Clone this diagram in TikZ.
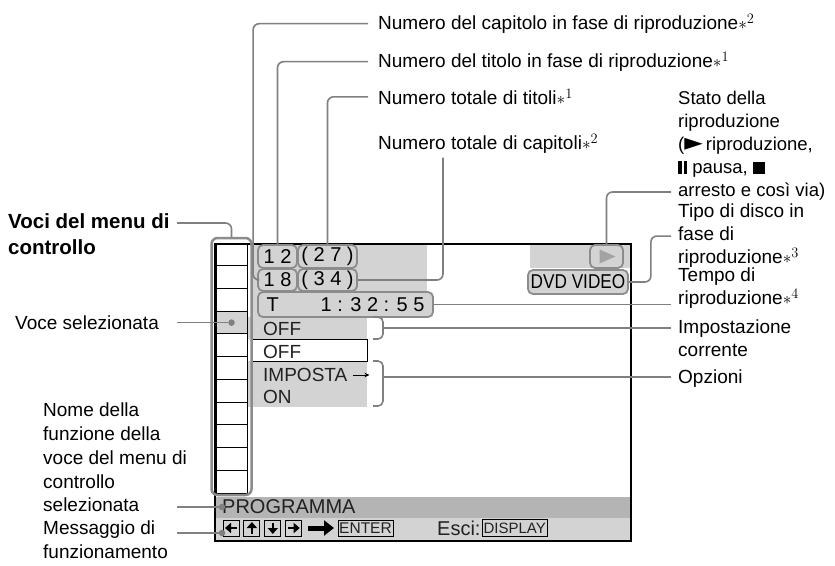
\documentclass[tikz,border=0pt]{standalone}
\usepackage[no-math]{fontspec}
\usepackage{graphicx}
\setmainfont{Liberation Sans}
\newfontfamily\symfont{DejaVu Sans}
\usetikzlibrary{calc,positioning,arrows.meta}

\definecolor{leadgray}{HTML}{808080}
\definecolor{boxgray}{HTML}{8C8C8C}
\definecolor{screengray}{HTML}{D3D3D3}
\definecolor{bargray}{HTML}{B4B4B4}
\definecolor{inkgray}{HTML}{222222}

\tikzset{
  lbl/.style={inner sep=0pt, align=left, text=black, font=\fontsize{19}{23}\selectfont},
  lead/.style={draw=leadgray, line width=1.6pt, rounded corners=6pt},
  bracket/.style={draw=leadgray, line width=1.6pt, rounded corners=5pt},
  numbox/.style={draw=boxgray, line width=1.8pt, fill=screengray, rounded corners=5pt, inner sep=0pt, font=\fontsize{20}{20}\selectfont},
  keybox/.style={draw=black, line width=0.9pt, inner sep=0pt, minimum width=16pt, minimum height=16pt},
  keyarrow/.style={line width=2.6pt, -{Triangle[length=6pt,width=10pt]}},
  scrtext/.style={inner sep=0pt, anchor=west, text=inkgray, font=\fontsize{19}{19}\selectfont},
  pin/.style={circle, fill=leadgray, inner sep=0pt, minimum size=6.5pt},
}

\begin{document}
\begin{tikzpicture}[x=1pt, y=-1pt]
  \useasboundingbox (0,0) rectangle (835,565);
  % fixed ends of the leader lines
  \coordinate (leftrail) at (177,0);
  \coordinate (toprail) at (368,0);
  \coordinate (rightrail) at (671,0);

  % screen: grey fields and frame
  \fill[screengray] (252,244) rectangle (427,317);
  \fill[screengray] (530,244) rectangle (631,268);
  \fill[screengray] (248,317) rectangle (367,339);
  \fill[screengray] (248,361) rectangle (367,407);
  \draw[black, line width=0.9pt] (252,339) rectangle (367,361);
  \fill[bargray] (215,497) rectangle (631,518);
  \fill[screengray] (215,518) rectangle (631,541);
  \draw[black, line width=1.3pt] (215,244) rectangle (631,541);

  % menu column
  \fill[screengray] (216,311.2) rectangle (247,333.9);
  \foreach \i in {0,...,10}
    \draw[black, line width=0.9pt] (216,243+22.73*\i) rectangle (247,243+22.73*\i+22.73);
  \node[draw=boxgray, line width=2.5pt, rounded corners=6pt, minimum width=40pt, minimum height=257pt] (menuframe) at (231.5,366.5) {};

  % counters, time, status
  \node[numbox, minimum width=39pt, minimum height=23pt] (ntitle) at (277.5,256.5) {1 2};
  \node[numbox, minimum width=59pt, minimum height=23pt] (ntitletot) at (327.5,256.5) {( 2 7 )};
  \node[numbox, minimum width=39pt, minimum height=22pt] (nchap) at (277.5,280) {1 8};
  \node[numbox, minimum width=59pt, minimum height=22pt] (nchaptot) at (327.5,280) {( 3 4 )};
  \node[numbox, minimum width=175pt, minimum height=25pt] (ntime) at (345.5,304.5) {T\hspace{42pt}1 : 3 2 : 5 5};
  \node[numbox, minimum width=33pt, minimum height=23pt] (play) at (606.5,256.5) {};
  \fill[boxgray!80] ([xshift=-7pt,yshift=7pt]play.center) -- ([xshift=9pt]play.center) -- ([xshift=-7pt,yshift=-7pt]play.center) -- cycle;
  \node[numbox, minimum width=100pt, minimum height=24pt] (dvd) at (578,282) {\scalebox{0.86}[1]{DVD VIDEO}};

  % setting and options
  \node[scrtext] (curval) at (263,329) {OFF};
  \node[scrtext] (optoff) at (263,352) {OFF};
  \node[scrtext] (optset) at (263,375) {IMPOSTA};
  \draw[line width=0.8pt, -{Stealth[length=5pt,width=4.5pt]}] ([xshift=5pt]optset.east) -- ++(17,0);
  \node[scrtext] (opton) at (263,397) {ON};
  \draw[bracket] (373,317) -- (383,317) -- (383,339) -- (373,339);
  \coordinate (curbr) at (383,328);
  \draw[bracket] (373,361) -- (383,361) -- (383,406) -- (373,406);
  \coordinate (optbr) at (383,377);

  % function name and message bar
  \node[scrtext, font=\fontsize{20}{20}\selectfont] (fname) at (222,507) {PROGRAMMA};
  \node[keybox] (kleft) at (231,528) {};
  \node[keybox, right=4pt of kleft] (kup) {};
  \node[keybox, right=4pt of kup] (kdown) {};
  \node[keybox, right=4pt of kdown] (kright) {};
  \draw[keyarrow] ([xshift=5.5pt]kleft.center) -- ([xshift=-6pt]kleft.center);
  \draw[keyarrow] ([yshift=-5.5pt]kup.center) -- ([yshift=6pt]kup.center);
  \draw[keyarrow] ([yshift=5.5pt]kdown.center) -- ([yshift=-6pt]kdown.center);
  \draw[keyarrow] ([xshift=-5.5pt]kright.center) -- ([xshift=6pt]kright.center);
  \draw[line width=5pt, -{Triangle[length=10pt,width=15pt]}] (308,528) -- (334,528);
  \node[keybox, minimum width=55pt, font=\fontsize{15.5}{15.5}\selectfont, text=inkgray] (enter) at (365.5,528) {ENTER};
  \node[scrtext, font=\fontsize{20}{20}\selectfont] (esci) at (437,528) {Esci:};
  \node[keybox, minimum width=65pt, minimum height=17pt, font=\fontsize{15}{15}\selectfont, text=inkgray, anchor=west] (disp) at ([xshift=1pt]esci.east) {DISPLAY};

  % labels on top
  \node[lbl, anchor=base west] (capno) at (378,29.5) {Numero del capitolo in fase di riproduzione$\ast^{2}$};
  \node[lbl, anchor=base west] (titno) at (378,67.5) {Numero del titolo in fase di riproduzione$\ast^{1}$};
  \node[lbl, anchor=base west] (tittot) at (378,104.5) {Numero totale di titoli$\ast^{1}$};
  \node[lbl, anchor=base west] (chaptot) at (378,149.5) {Numero totale di capitoli$\ast^{2}$};
  \draw[lead] (capno.west -| toprail) -| ([xshift=-4pt]nchap.west) -- (nchap.west);
  \draw[lead] (titno.west -| toprail) -| (ntitle.north);
  \draw[lead] (tittot.west -| toprail) -| (ntitletot.north);
  \draw[lead] ([xshift=65pt,yshift=-4pt]chaptot.south west) |- (nchaptot.east);

  % labels on the right
  \node[lbl, anchor=north west, font=\fontsize{18.5}{23}\selectfont] (state) at (678,91) {Stato della\\riproduzione\\(\scalebox{1.3}{\symfont ►}\,riproduzione,\\\rule{3.5pt}{13pt}\hspace{2pt}\rule{3.5pt}{13pt} pausa, \rule{12pt}{12pt}\\arresto e così via)};
  \node[lbl, anchor=north west] (disctype) at (678,204) {Tipo di disco in\\fase di\\riproduzione$\ast^{3}$};
  \node[lbl, anchor=north west] (playtime) at (678,268) {Tempo di\\riproduzione$\ast^{4}$};
  \node[lbl, anchor=north west] (cursetting) at (678,320) {Impostazione\\corrente};
  \node[lbl, anchor=base west] (options) at (678,383.5) {Opzioni};
  \draw[lead] (play.north) |- (rightrail |- 0,192);
  \draw[lead] (dvd.east) -- ++(22,0) |- (rightrail |- disctype.west);
  \draw[lead] (ntime.east) -- (rightrail |- ntime.east);
  \draw[lead] (curbr) -- (rightrail |- curbr);
  \draw[lead] (optbr) -- (rightrail |- optbr);

  % labels on the left
  \node[lbl, anchor=north west, font=\bfseries\fontsize{20.5}{26}\selectfont] (menuitems) at (8,213) {Voci del menu di\\controllo};
  \draw[lead] (leftrail |- 0,223) -| (menuframe.north);
  \node[lbl, anchor=base west] (selitem) at (15,329.5) {Voce selezionata};
  \node[lbl, anchor=north west, font=\fontsize{19}{23.75}\selectfont] (fnlabel) at (43,403) {Nome della\\funzione della\\voce del menu di\\controllo\\selezionata};
  \node[lbl, anchor=north west, font=\fontsize{19}{24}\selectfont] (msglabel) at (43,521) {Messaggio di\\funzionamento};
  \node[pin] (seldot) at (231.5,322.6) {};
  \node[pin] (fnamedot) at (222,507) {};
  \node[pin] (msgdot) at (222,533) {};
  \draw[lead] (seldot) -- (seldot -| leftrail);
  \draw[lead] (fnamedot) -- (fnamedot -| leftrail);
  \draw[lead] (msgdot) -- (msgdot -| leftrail);
\end{tikzpicture}
\end{document}
